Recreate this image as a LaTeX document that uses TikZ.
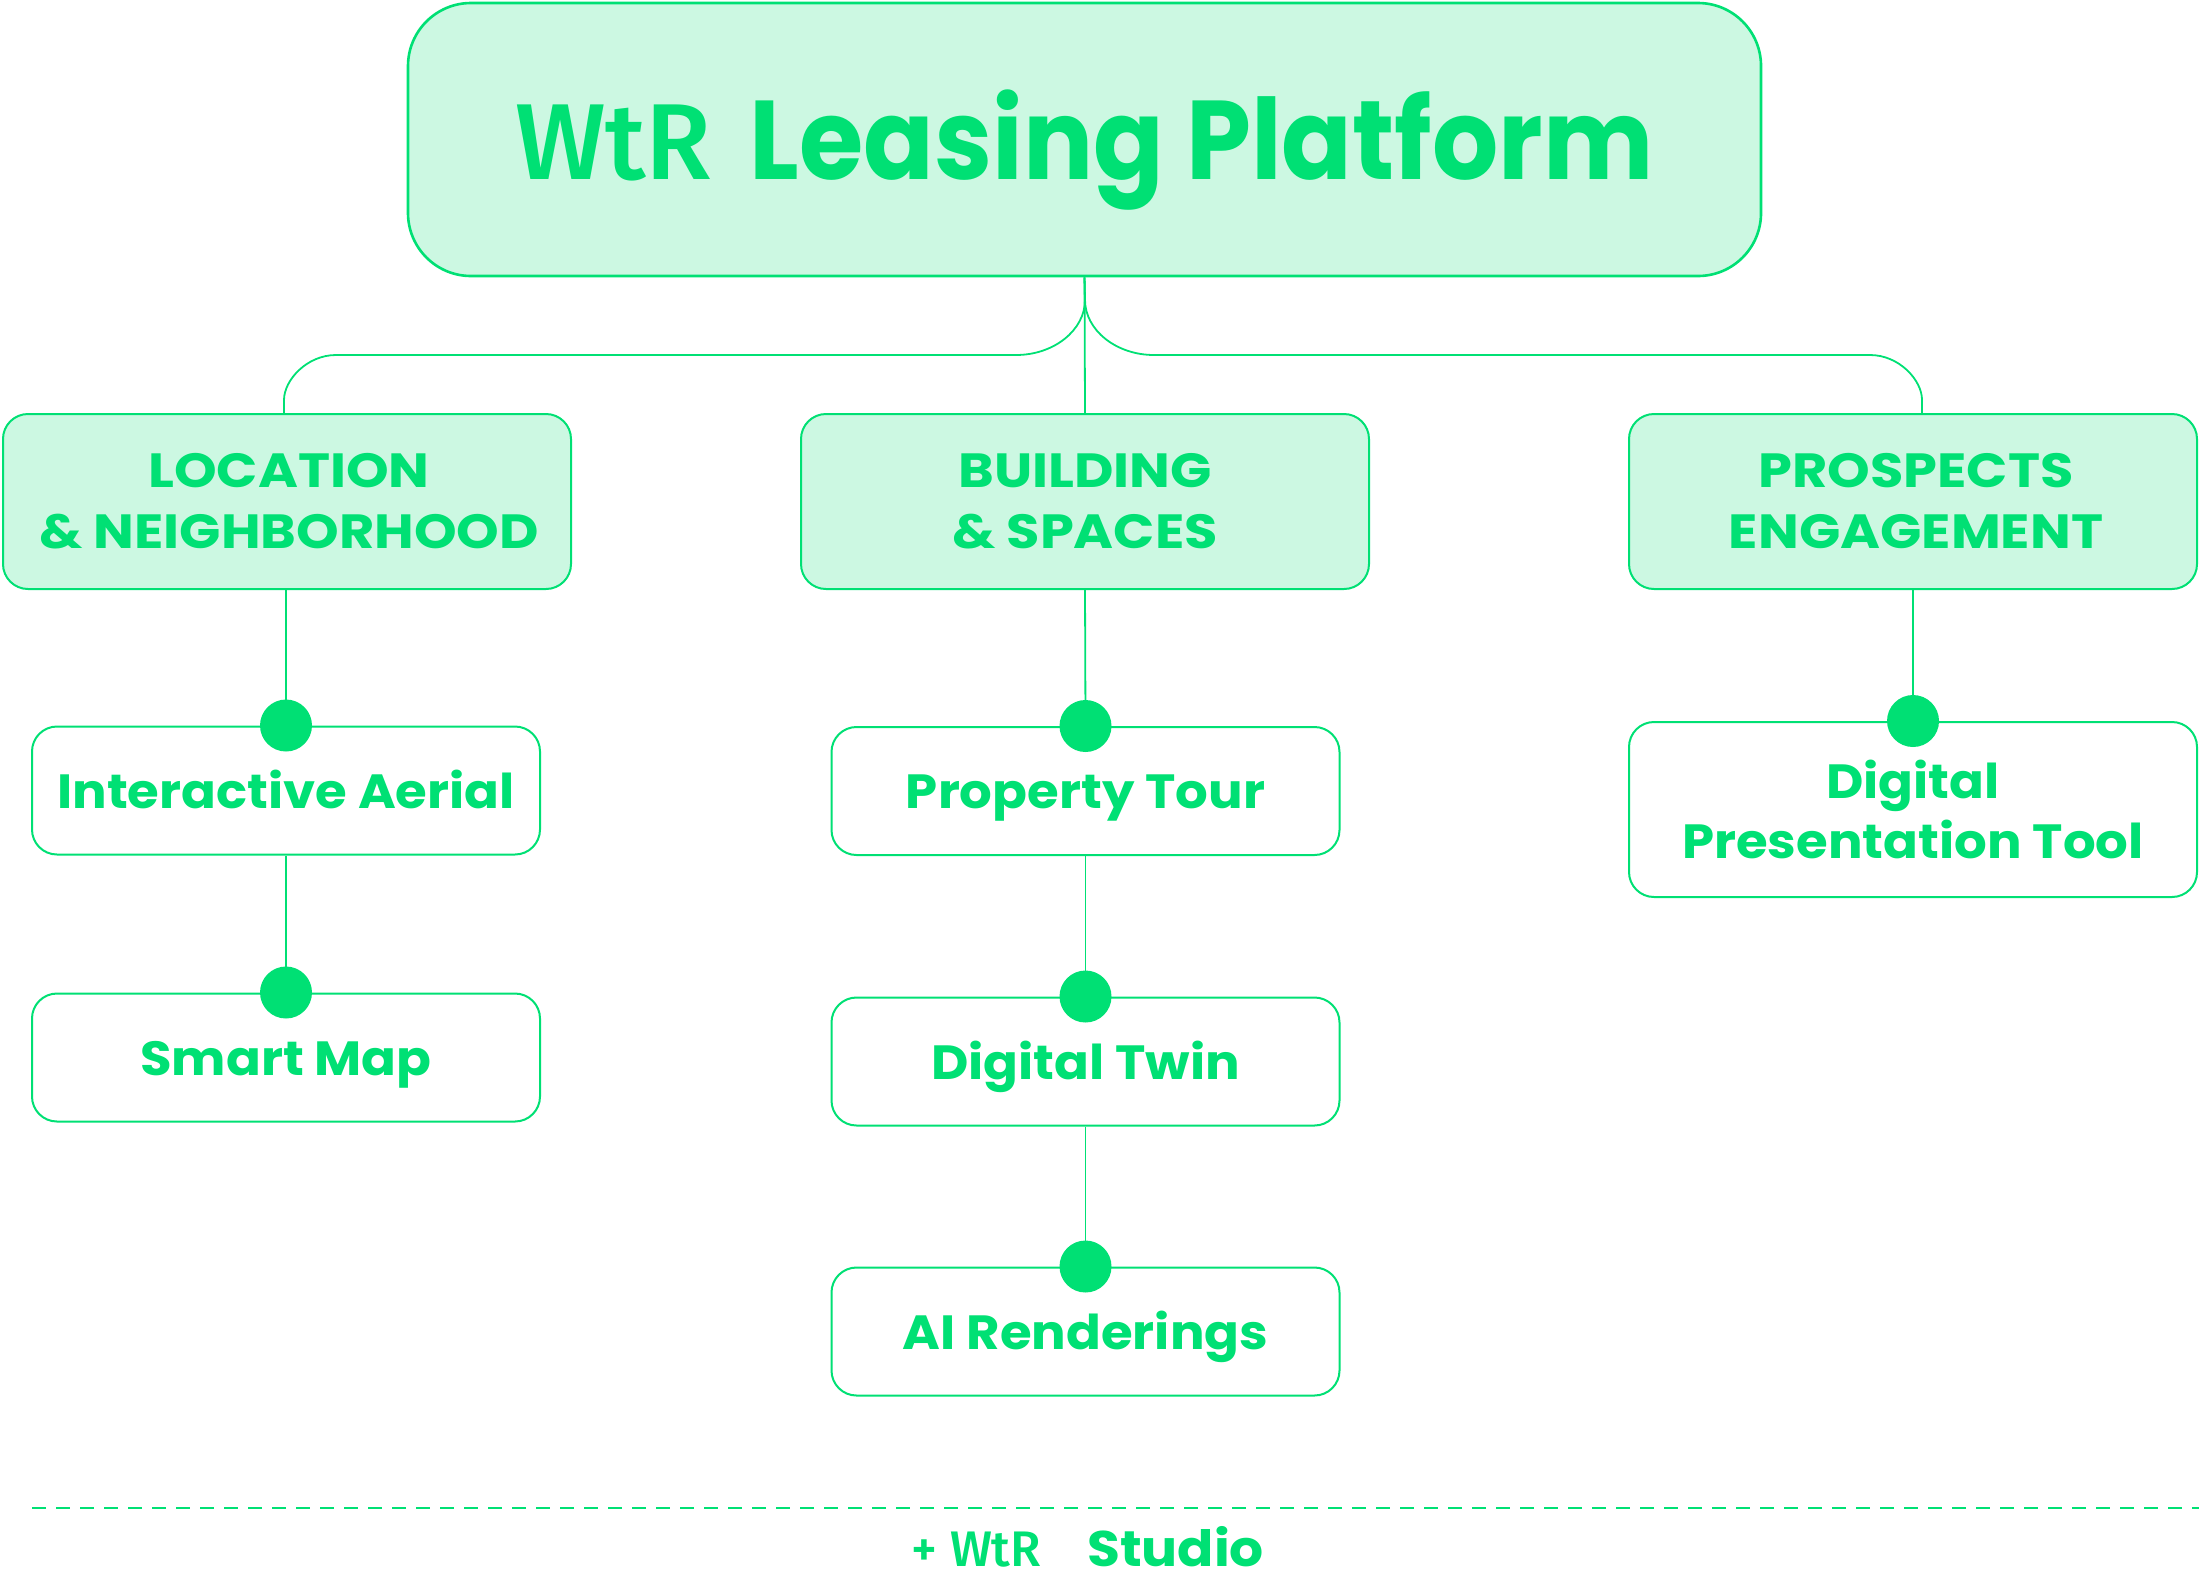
\documentclass[tikz,border=0pt]{standalone}
\usepackage{fontspec}
\setmainfont{Poppins}
\newfontfamily\logofont{Fira Sans}[UprightFont={* Medium}]
\newfontfamily\titlefont{Poppins}[FakeStretch=0.93]
\newfontfamily\headfont{Poppins}[FakeStretch=1.13]
\newfontfamily\itemfont{Poppins}[FakeStretch=1.07]
\usetikzlibrary{backgrounds}
\definecolor{wgreen}{RGB}{0,224,116}
\definecolor{wmint}{RGB}{204,248,226}
\begin{document}
\begin{tikzpicture}[x=1pt,y=-1pt,
  conn/.style={draw=wgreen, line width=1.8pt},
  titlebox/.style={draw=wgreen, line width=2.6pt, fill=wmint, rounded corners=63pt,
    minimum width=1353pt, minimum height=273pt, inner sep=0pt, text=wgreen,
    text height=80pt, text depth=0pt},
  headbox/.style={draw=wgreen, line width=2pt, fill=wmint, rounded corners=25pt,
    minimum width=568pt, minimum height=175pt, inner sep=0pt, text=wgreen, align=center,
    font=\headfont\fontsize{48}{61}\selectfont\bfseries},
  itembox/.style={draw=wgreen, line width=2pt, fill=white, rounded corners=25pt,
    minimum width=508pt, minimum height=128pt, inner sep=0pt, text=wgreen, align=center,
    text height=35pt, text depth=0pt,
    font=\itemfont\fontsize{48}{60}\selectfont\bfseries},
  bigitem/.style={itembox, minimum width=568pt, minimum height=175pt, text height=, text depth=},
  dot/.style={circle, fill=wgreen, minimum size=52pt, inner sep=0pt},
]
\useasboundingbox (0,0) rectangle (2199,1583);

% title
\node[titlebox] (T) at (1084.5,139.5)
  {{\logofont\fontsize{108}{108}\selectfont WtR}\hspace{38pt}{\titlefont\fontsize{112}{112}\selectfont\bfseries Leasing Platform}};

% headers
\node[headbox] (L) at (287,501.5) {\hspace*{4pt}LOCATION\\\hspace*{4pt}\& NEIGHBORHOOD};
\node[headbox] (M) at (1085,501.5) {BUILDING\\\& SPACES};
\node[headbox] (R) at (1913,501.5) {\hspace*{6pt}PROSPECTS\\\hspace*{6pt}ENGAGEMENT};

% items
\node[itembox] (IA) at (286,790.5) {Interactive Aerial};
\node[itembox] (SM) at (286,1057.5) {Smart Map};
\node[itembox] (PT) at (1085.5,791) {Property Tour};
\node[itembox] (DT) at (1085.5,1061.5) {Digital Twin};
\node[itembox] (AR) at (1085.5,1331.5) {AI Renderings};
\node[bigitem] (DP) at (1913,809.5) {Digital\\Presentation Tool};

% dots
\node[dot] (d1) at (IA.north) {};
\node[dot] (d2) at (SM.north) {};
\node[dot] (d3) at (PT.north) {};
\node[dot] (d4) at (DT.north) {};
\node[dot] (d5) at (AR.north) {};
\node[dot] (d6) at (DP.north) {};

\coordinate (split) at (1085,300);
\coordinate (Lin) at (284,414);
\coordinate (Rin) at (1922,414);
\coordinate (Lout) at (286,589);
\coordinate (Rout) at (1913,589);

\begin{scope}[on background layer]
  \draw[conn] (T.south) -- (M.north);
  \draw[conn] (T.south) -- (split) .. controls (1085,330) and (1054,355) .. (1016,355)
     -- (336,355) .. controls (307,355) and (284,380) .. (284,400) -- (Lin);
  \draw[conn] (T.south) -- (split) .. controls (1085,330) and (1116,355) .. (1154,355)
     -- (1870,355) .. controls (1899,355) and (1922,380) .. (1922,400) -- (Rin);
  \draw[conn] (Lout) -- (d1.center);
  \draw[conn] (IA.south) -- (d2.center);
  \draw[conn] (M.south) -- (d3.center);
  \draw[conn] (PT.south) -- (d4.center);
  \draw[conn] (DT.south) -- (d5.center);
  \draw[conn] (Rout) -- (d6.center);
\end{scope}

% dashed separator
\coordinate (dl) at (32,1508);
\coordinate (dr) at (2199,1508);
\draw[draw=wgreen, line width=2pt, dash pattern=on 14pt off 10pt] (dl) -- (dr);

% footer
\node[anchor=base, text=wgreen, inner sep=0pt] (foot) at (1088,1566)
  {{\logofont\fontsize{50}{50}\selectfont + WtR}\hspace{46pt}{\itemfont\fontsize{50}{50}\selectfont\bfseries Studio}};
\end{tikzpicture}
\end{document}
